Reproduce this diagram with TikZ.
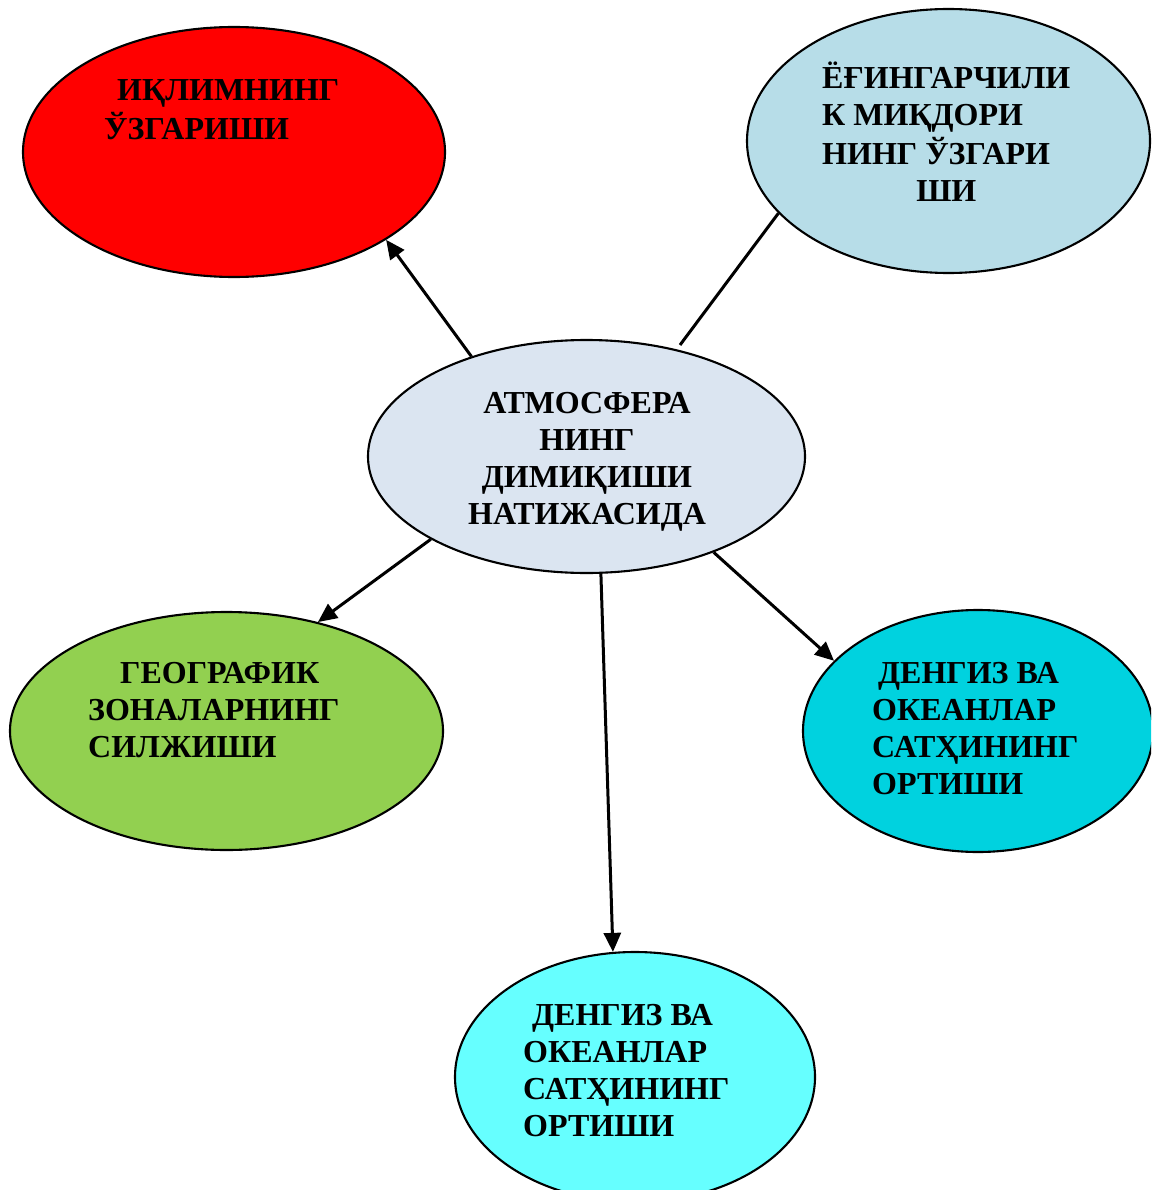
\documentclass[tikz,border=0pt]{standalone}
\usepackage{fontspec}
\setmainfont{Liberation Serif}
\usetikzlibrary{shapes.geometric,arrows.meta}

\definecolor{redfill}{HTML}{FF0000}
\definecolor{bluefill}{HTML}{B7DDE8}
\definecolor{centerfill}{HTML}{DBE5F1}
\definecolor{greenfill}{HTML}{92D050}
\definecolor{tealfill}{HTML}{00D2DF}
\definecolor{cyanfill}{HTML}{66FFFF}

\tikzset{
  bubble/.style={ellipse, draw=black, line width=2.1pt, inner sep=0pt},
  label text/.style={inner sep=0pt, font=\bfseries\fontsize{32}{37}\selectfont},
  conn/.style={line width=3pt, draw=black},
  arrowconn/.style={conn, -{Triangle[length=19pt,width=17pt]}}
}

\begin{document}
\begin{tikzpicture}[x=1pt,y=-1pt]
  \useasboundingbox (0,0) rectangle (1151,1190);
  \clip (0,0) rectangle (1151,1190);

  % ellipses
  \node[bubble, fill=redfill, minimum width=422pt, minimum height=250pt] (climate) at (234,152) {};
  \node[bubble, fill=bluefill, minimum width=403pt, minimum height=264pt] (crops) at (948.5,141) {};
  \node[bubble, fill=centerfill, minimum width=437pt, minimum height=233pt] (atm) at (586.5,456.5) {};
  \node[bubble, fill=greenfill, minimum width=433pt, minimum height=238pt] (zones) at (226.5,731) {};
  \node[bubble, fill=tealfill, minimum width=350pt, minimum height=242pt] (seaA) at (978,731) {};
  \node[bubble, fill=cyanfill, minimum width=360pt, minimum height=250pt] (seaB) at (635,1077) {};

  % texts
  \node[label text, anchor=base west] (tclimate) at (104,101)
    {\begin{tabular}[t]{@{}l@{}}\hspace*{13pt}ИҚЛИМНИНГ\\ЎЗГАРИШИ\end{tabular}};
  \node[label text, anchor=base west] (tcrops) at (822,89)
    {\begin{tabular}[t]{@{}l@{}}ЁҒИНГАРЧИЛИ\\К МИҚДОРИ\\НИНГ ЎЗГАРИ\\\multicolumn{1}{@{}c@{}}{ШИ}\end{tabular}};
  \node[label text, anchor=base] (tatm) at (587,413)
    {\begin{tabular}[t]{@{}c@{}}АТМОСФЕРА\\НИНГ\\ДИМИҚИШИ\\НАТИЖАСИДА\end{tabular}};
  \node[label text, anchor=base west] (tzones) at (88,683)
    {\begin{tabular}[t]{@{}l@{}}\hspace*{32pt}ГЕОГРАФИК\\ЗОНАЛАРНИНГ\\СИЛЖИШИ\end{tabular}};
  \node[label text, anchor=base west] (tseaA) at (872,683)
    {\begin{tabular}[t]{@{}l@{}}\hspace*{6pt}ДЕНГИЗ ВА\\ОКЕАНЛАР\\САТҲИНИНГ\\ОРТИШИ\end{tabular}};
  \node[label text, anchor=base west] (tseaB) at (523,1025)
    {\begin{tabular}[t]{@{}l@{}}\hspace*{9pt}ДЕНГИЗ ВА\\ОКЕАНЛАР\\САТҲИНИНГ\\ОРТИШИ\end{tabular}};

  % connectors
  \coordinate (cropsstart) at (680,345);
  \draw[arrowconn] (atm.139.8) -- (climate.-30.6);
  \draw[conn] (cropsstart) -- (crops.203.6);
  \draw[arrowconn] (atm.208.5) -- (zones.50.1);
  \draw[arrowconn] (atm.-37.3) -- (seaA.154.9);
  \draw[arrowconn] (atm.-83.9) -- (seaB.100);
\end{tikzpicture}
\end{document}
